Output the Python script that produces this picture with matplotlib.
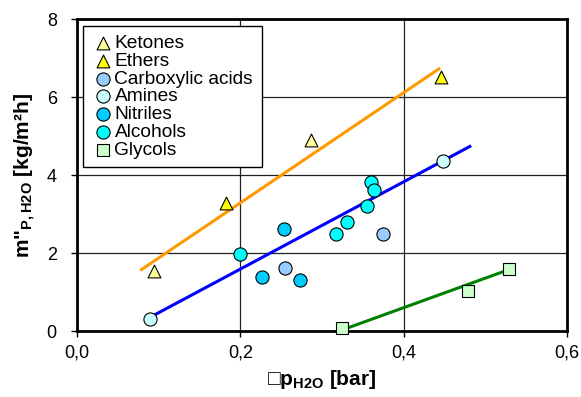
import matplotlib
matplotlib.use('Agg')
import matplotlib.pyplot as plt

plt.rcParams['font.family'] = ['Liberation Sans', 'DejaVu Sans']
plt.rcParams['mathtext.fontset'] = 'custom'
plt.rcParams['mathtext.rm'] = 'Liberation Sans'
plt.rcParams['mathtext.bf'] = 'Liberation Sans:bold'

# Data
ketones_x = [0.094, 0.286]
ketones_y = [1.54, 4.91]
ethers_x = [0.182, 0.446]
ethers_y = [3.29, 6.51]
acids_x = [0.255, 0.375]
acids_y = [1.62, 2.48]
amines_x = [0.090, 0.448]
amines_y = [0.30, 4.36]
nitriles_x = [0.254, 0.227, 0.273]
nitriles_y = [2.61, 1.39, 1.32]
alcohols_x = [0.199, 0.317, 0.331, 0.355, 0.360, 0.364]
alcohols_y = [1.98, 2.48, 2.79, 3.20, 3.82, 3.62]
glycols_x = [0.324, 0.479, 0.529]
glycols_y = [0.07, 1.03, 1.59]

# trend line end points
orange_x = [0.079, 0.443]
orange_y = [1.58, 6.73]
blue_x = [0.090, 0.481]
blue_y = [0.36, 4.74]
green_x = [0.318, 0.533]
green_y = [-0.02, 1.61]

fig = plt.figure(figsize=(5.81, 3.97), dpi=100)
ax = fig.add_axes([0.1325, 0.166, 0.8435, 0.785])

ax.plot(orange_x, orange_y, color='#FF9900', lw=2.2, zorder=2)
ax.plot(blue_x, blue_y, color='#0000FF', lw=2.2, zorder=2)
ax.plot(green_x, green_y, color='#008000', lw=2.2, zorder=2)

kw = dict(edgecolors='black', linewidths=0.8, zorder=3, clip_on=False)
ax.scatter(ketones_x, ketones_y, marker='^', s=85, color='#FFFF99', label='Ketones', **kw)
ax.scatter(ethers_x, ethers_y, marker='^', s=85, color='#FFFF00', label='Ethers', **kw)
ax.scatter(acids_x, acids_y, marker='o', s=90, color='#99CCFF', label='Carboxylic acids', **kw)
ax.scatter(amines_x, amines_y, marker='o', s=90, color='#CCFFFF', label='Amines', **kw)
ax.scatter(nitriles_x, nitriles_y, marker='o', s=90, color='#00CCFF', label='Nitriles', **kw)
ax.scatter(alcohols_x, alcohols_y, marker='o', s=90, color='#00FFFF', label='Alcohols', **kw)
ax.scatter(glycols_x, glycols_y, marker='s', s=75, color='#CCFFCC', label='Glycols', **kw)

ax.set_xlim(0, 0.6)
ax.set_ylim(0, 8)
ax.set_xticks([0, 0.2, 0.4, 0.6])
ax.set_xticklabels(['0,0', '0,2', '0,4', '0,6'])
ax.set_yticks([0, 2, 4, 6, 8])
ax.set_yticklabels(['0', '2', '4', '6', '8'])
ax.tick_params(direction='out', length=4.5, width=1, labelsize=13)
ax.tick_params(axis='y', pad=10)
ax.tick_params(axis='x', pad=5)
ax.grid(True, color='#222222', lw=0.9)
ax.set_axisbelow(True)
for s in ax.spines.values():
    s.set_linewidth(2)

ax.set_xlabel(r'□p$_{\mathbf{H2O}}$ [bar]', fontsize=15, fontweight='bold', labelpad=5)
ax.set_ylabel(r'm"$_{\mathbf{P,H2O}}$ [kg/m²h]', fontsize=15, fontweight='bold', labelpad=6)

leg = ax.legend(loc='upper left', bbox_to_anchor=(0.012, 0.979), fontsize=13.8,
                frameon=True, fancybox=False, edgecolor='black', borderpad=0.45,
                labelspacing=0.02, handletextpad=0.0, handlelength=1.2,
                borderaxespad=0, scatterpoints=1)
leg.get_frame().set_linewidth(1)
leg.get_frame().set_alpha(1)

plt.savefig('out.png', dpi=100)
